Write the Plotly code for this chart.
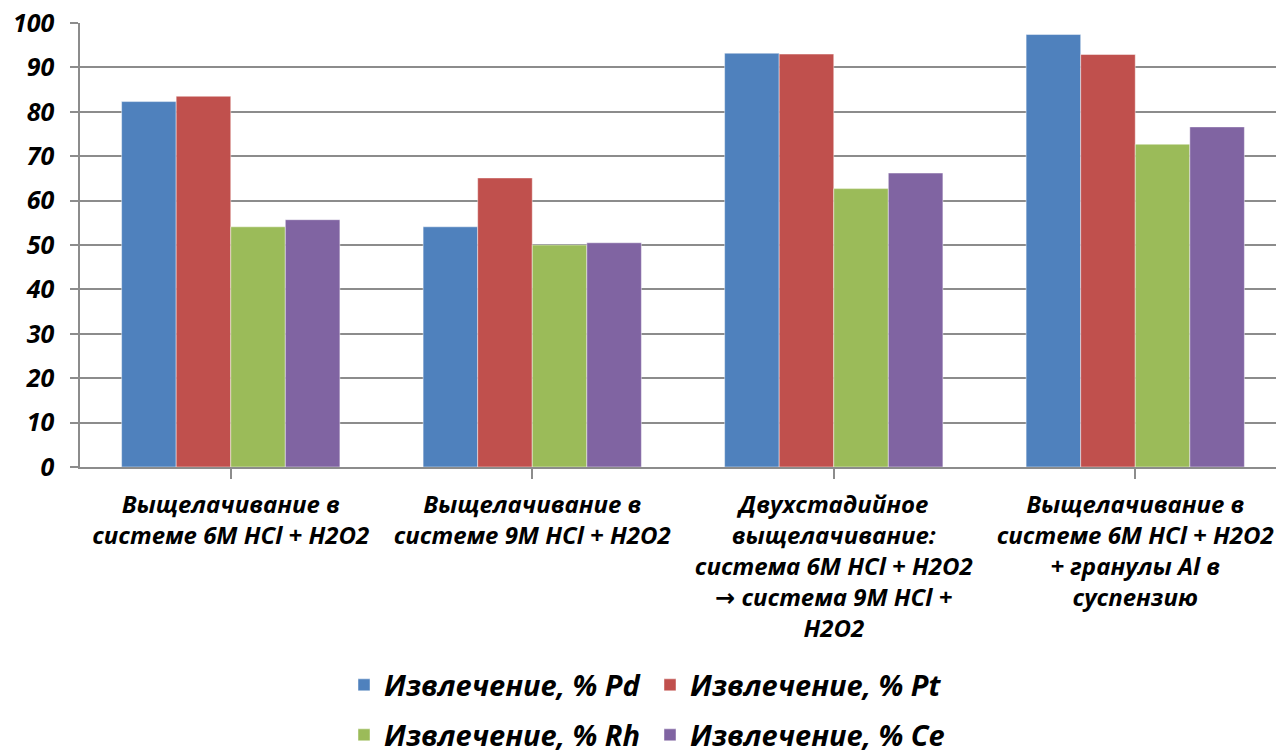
import plotly.graph_objects as go

ARROW = '<span style="font-family:DejaVu Sans">→</span>'

# Leaching categories (x axis)
categories = [
    "Выщелачивание в<br>системе 6М HCl + H2O2",
    "Выщелачивание в<br>системе 9М HCl + H2O2",
    "Двухстадийное<br>выщелачивание:<br>система 6М HCl + H2O2<br>" + ARROW + " система 9М HCl +<br>H2O2",
    "Выщелачивание в<br>системе 6М HCl + H2O2<br>+ гранулы Al в<br>суспензию",
]

# Recovery, % by metal
pd_values = [82.3, 54.1, 93.2, 97.4]
pt_values = [83.5, 65.1, 93.0, 92.9]
rh_values = [54.1, 50.0, 62.7, 72.7]
ce_values = [55.7, 50.5, 66.2, 76.6]

series_names = ["Извлечение, % Pd", "Извлечение, % Pt", "Извлечение, % Rh", "Извлечение, % Ce"]
series_values = [pd_values, pt_values, rh_values, ce_values]
colors = ["#4F81BD", "#C0504D", "#9BBB59", "#8064A2"]
legend_ids = ["legend", "legend", "legend2", "legend2"]

FONT = "Open Sans"
GRID = "#8c8c8c"

fig = go.Figure()
for name, vals, col, lg in zip(series_names, series_values, colors, legend_ids):
    fig.add_trace(go.Bar(
        x=list(range(len(categories))),
        y=vals,
        name=name,
        marker=dict(color=col, line=dict(color="rgba(255,255,255,0.45)", width=1)),
        legend=lg,
    ))

legend_common = dict(
    orientation="h",
    xanchor="left",
    yanchor="middle",
    entrywidth=261,
    entrywidthmode="pixels",
    font=dict(family=FONT, size=29, color="black", weight="bold", style="italic"),
    bgcolor="rgba(0,0,0,0)",
    itemclick=False,
    itemdoubleclick=False,
)

PLOT_H = 756 - 23 - 289
fig.update_layout(
    width=1276,
    height=756,
    margin=dict(l=80, r=0, t=23, b=289, autoexpand=False),
    paper_bgcolor="white",
    plot_bgcolor="white",
    barmode="group",
    bargap=0.276,
    bargroupgap=0,
    font=dict(family=FONT, color="black"),
    legend=dict(x=(344 - 80) / 1196, y=(467 - 685) / PLOT_H, **legend_common),
    legend2=dict(x=(344 - 80) / 1196, y=(467 - 735) / PLOT_H, **legend_common),
    xaxis=dict(
        range=[-0.5, -0.5 + 1196 / 301.5],
        tickmode="array",
        tickvals=list(range(len(categories))),
        ticktext=categories,
        tickson="boundaries",
        ticks="outside",
        ticklen=10,
        tickcolor=GRID,
        tickwidth=1.5,
        showgrid=False,
        showline=True,
        linecolor=GRID,
        linewidth=1.5,
        tickangle=0,
        ticklabelstandoff=5,
        tickfont=dict(family=FONT, size=24, color="black", weight="bold", style="italic"),
        fixedrange=True,
    ),
    yaxis=dict(
        range=[0, 100],
        dtick=10,
        tick0=0,
        ticks="outside",
        ticklen=8,
        tickcolor=GRID,
        tickwidth=1.5,
        showgrid=True,
        gridcolor=GRID,
        gridwidth=1.5,
        showline=True,
        linecolor=GRID,
        linewidth=1.5,
        zeroline=False,
        ticklabelstandoff=11,
        tickfont=dict(family=FONT, size=25, color="black", weight="bold", style="italic"),
        fixedrange=True,
    ),
)

fig.write_html("out.html", config={"displayModeBar": False})
